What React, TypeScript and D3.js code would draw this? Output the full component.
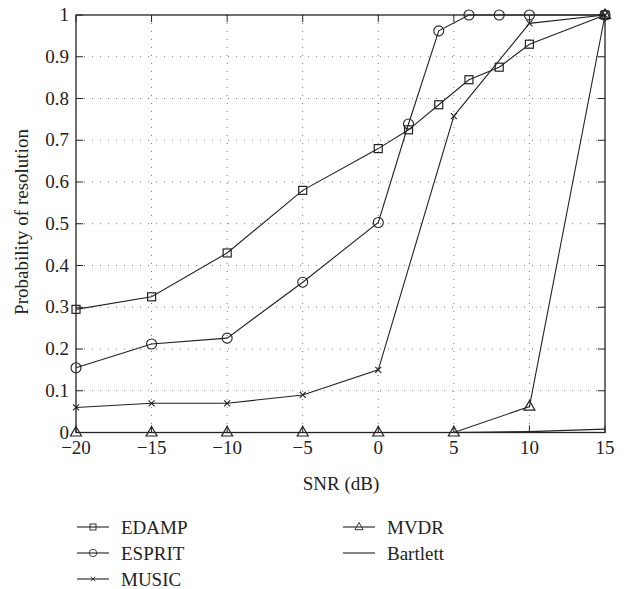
import React from "react";
import * as d3 from "d3";

const edampX = [-20, -15, -10, -5, 0, 2, 4, 6, 8, 10, 15];
const edampY = [0.295, 0.325, 0.43, 0.58, 0.68, 0.725, 0.785, 0.845, 0.875, 0.93, 1];
const espritX = [-20, -15, -10, -5, 0, 2, 4, 6, 8, 10, 15];
const espritY = [0.155, 0.212, 0.226, 0.36, 0.503, 0.739, 0.962, 1, 1, 1, 1];
const musicX = [-20, -15, -10, -5, 0, 5, 10, 15];
const musicY = [0.06, 0.07, 0.07, 0.09, 0.15, 0.758, 0.98, 1];
const mvdrX = [-20, -15, -10, -5, 0, 5, 10, 15];
const mvdrY = [0, 0, 0, 0, 0, 0, 0.062, 1];
const bartlettX = [-20, -15, -10, -5, 0, 5, 10, 15];
const bartlettY = [0, 0, 0, 0, 0, 0, 0.002, 0.008];
const xTicks = [-20, -15, -10, -5, 0, 5, 10, 15];
const yTicks = [0, 0.1, 0.2, 0.3, 0.4, 0.5, 0.6, 0.7, 0.8, 0.9, 1];

const W = 626, H = 589;
const L = 76, R = 605, T = 15, B = 432.5;
const FONT = '"Liberation Serif", "DejaVu Serif", serif';
const INK = "#222";
const TS = { fontFamily: FONT, fontSize: 19 } as React.CSSProperties;

type Marker = "square" | "circle" | "cross" | "triangle" | "none";

function MarkerShape({ kind, x, y }: { kind: Marker; x: number; y: number }) {
  if (kind === "square") return <rect x={x - 4} y={y - 4} width={8} height={8} fill="none" stroke={INK} strokeWidth={1.2} />;
  if (kind === "circle") return <circle cx={x} cy={y} r={5} fill="none" stroke={INK} strokeWidth={1.1} />;
  if (kind === "cross") return <path d={`M${x - 3},${y - 3}L${x + 3},${y + 3}M${x - 3},${y + 3}L${x + 3},${y - 3}`} stroke={INK} strokeWidth={1.1} />;
  if (kind === "triangle") return <path d={`M${x},${y - 6}L${x + 5.5},${y + 3.5}L${x - 5.5},${y + 3.5}Z`} fill="none" stroke={INK} strokeWidth={1.2} />;
  return null;
}

export default function App() {
  const xs = d3.scaleLinear().domain([-20, 15]).range([L, R]);
  const ys = d3.scaleLinear().domain([0, 1]).range([B, T]);
  const line = d3.line<[number, number]>().x(d => xs(d[0])).y(d => ys(d[1]));

  const series: { name: string; xv: number[]; yv: number[]; m: Marker }[] = [
    { name: "EDAMP", xv: edampX, yv: edampY, m: "square" },
    { name: "ESPRIT", xv: espritX, yv: espritY, m: "circle" },
    { name: "MUSIC", xv: musicX, yv: musicY, m: "cross" },
    { name: "MVDR", xv: mvdrX, yv: mvdrY, m: "triangle" },
    { name: "Bartlett", xv: bartlettX, yv: bartlettY, m: "none" },
  ];

  const legendPos = [
    { x: 77, y: 527 },
    { x: 77, y: 553 },
    { x: 77, y: 579 },
    { x: 343, y: 527 },
    { x: 343, y: 553 },
  ];

  return (
    <svg width={W} height={H} style={{ display: "block", position: "absolute", left: 0, top: 0 }}>
      <rect width={W} height={H} fill="#fff" />
      {xTicks.slice(1, -1).map(t => (
        <line key={"gx" + t} x1={xs(t)} x2={xs(t)} y1={T} y2={B} stroke="#777" strokeWidth={1} strokeDasharray="1,7" />
      ))}
      {yTicks.slice(1, -1).map(t => (
        <line key={"gy" + t} x1={L} x2={R} y1={ys(t)} y2={ys(t)} stroke="#777" strokeWidth={1} strokeDasharray="1,7" />
      ))}
      {xTicks.map(t => (
        <g key={"tx" + t}>
          <line x1={xs(t)} x2={xs(t)} y1={B} y2={B - 7} stroke={INK} />
          <line x1={xs(t)} x2={xs(t)} y1={T} y2={T + 7} stroke={INK} />
          <text x={xs(t)} y={454} style={TS} textAnchor="middle" fill={INK}>{t < 0 ? "\u2212" + Math.abs(t) : String(t)}</text>
        </g>
      ))}
      {yTicks.map(t => (
        <g key={"ty" + t}>
          <line x1={L} x2={L + 7} y1={ys(t)} y2={ys(t)} stroke={INK} />
          <line x1={R} x2={R - 7} y1={ys(t)} y2={ys(t)} stroke={INK} />
          <text x={69} y={ys(t) + 6} style={TS} textAnchor="end" fill={INK}>{String(t)}</text>
        </g>
      ))}
      {series.map(s => {
        const pts: [number, number][] = s.xv.map((x, i) => [x, s.yv[i]]);
        return (
          <g key={s.name}>
            <path d={line(pts) || ""} fill="none" stroke={INK} strokeWidth={1.1} />
            {pts.map((p, i) => <MarkerShape key={i} kind={s.m} x={xs(p[0])} y={ys(p[1])} />)}
          </g>
        );
      })}
      <rect x={L} y={T} width={R - L} height={B - T} fill="none" stroke={INK} strokeWidth={1.3} />
      <text x={341} y={490} style={TS} textAnchor="middle" fill={INK}>SNR (dB)</text>
      <text transform={`translate(28,222) rotate(-90)`} style={TS} textAnchor="middle" fill={INK}>Probability of resolution</text>
      {series.map((s, i) => {
        const p = legendPos[i];
        return (
          <g key={"lg" + s.name}>
            <line x1={p.x} x2={p.x + 32} y1={p.y} y2={p.y} stroke={INK} strokeWidth={1.1} />
            <g transform={`translate(${p.x + 16},${p.y}) scale(0.75) translate(${-(p.x + 16)},${-p.y})`}>
              <MarkerShape kind={s.m} x={p.x + 16} y={p.y} />
            </g>
            <text x={p.x + 44} y={p.y + 6.5} style={TS} fill={INK}>{s.name}</text>
          </g>
        );
      })}
    </svg>
  );
}
